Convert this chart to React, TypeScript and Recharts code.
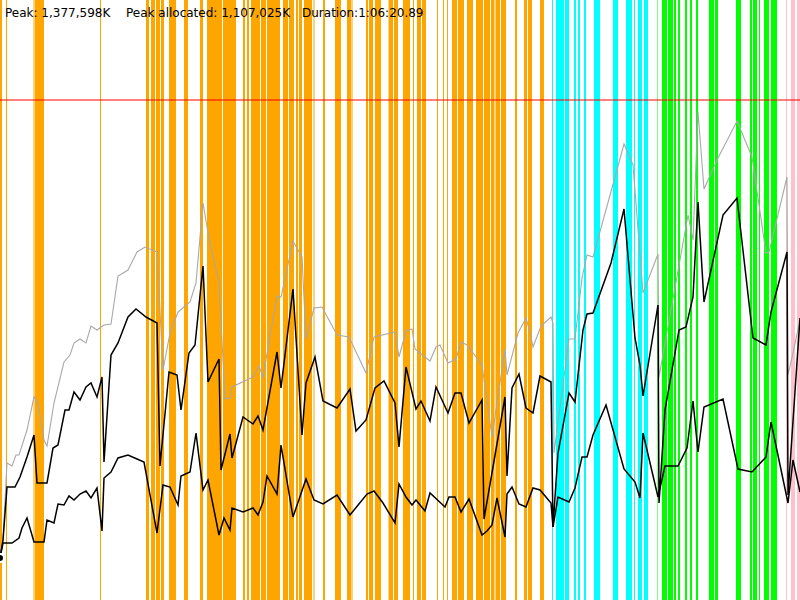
import React from 'react'
import { LineChart, Line, XAxis, YAxis, ReferenceArea, ReferenceLine } from 'recharts'

// time axis runs 0..800 (scaled sample index), memory axis 0..600
const grayTime = [0, 3, 7, 12, 16, 19, 27, 34, 38, 44, 47, 54, 64, 70, 74, 80, 86, 91, 97, 104, 111, 118, 128, 137, 145, 157, 163, 170, 178, 190, 196, 203, 208, 219, 225, 230, 232, 253, 259, 263, 277, 281, 293, 302, 306, 314, 322, 337, 349, 366, 374, 395, 399, 406, 412, 415, 430, 436, 440, 448, 456, 461, 467, 482, 492, 505, 507, 518, 526, 530, 533, 541, 551, 553, 554, 569, 575, 582, 587, 593, 604, 615, 624, 633, 643, 658, 659, 688, 693, 698, 704, 717, 737, 752, 766, 769, 787, 788, 793, 800]
const grayValue = [42, 60, 137, 134, 145, 145, 170, 203, 197, 160, 154, 197, 238, 245, 257, 261, 257, 274, 270, 275, 276, 324, 330, 348, 353, 348, 230, 267, 288, 298, 317, 397, 367, 317, 201, 202, 213, 223, 234, 223, 304, 303, 359, 343, 261, 292, 293, 265, 263, 227, 263, 268, 243, 269, 271, 251, 239, 253, 255, 237, 241, 258, 255, 235, 163, 251, 225, 267, 282, 268, 253, 274, 283, 277, 147, 261, 261, 322, 345, 343, 383, 423, 456, 435, 307, 346, 223, 385, 360, 488, 411, 440, 479, 443, 347, 348, 423, 225, 247, 280]

const usedTime = [0, 3, 7, 15, 20, 27, 34, 37, 47, 53, 58, 65, 69, 74, 80, 86, 91, 97, 102, 104, 111, 118, 128, 136, 146, 157, 160, 169, 177, 181, 189, 195, 203, 208, 219, 221, 230, 232, 243, 253, 258, 263, 277, 281, 293, 302, 306, 315, 323, 337, 350, 356, 366, 375, 384, 395, 399, 406, 416, 421, 430, 436, 448, 455, 461, 469, 482, 484, 493, 505, 507, 512, 519, 526, 533, 540, 551, 553, 558, 569, 575, 583, 587, 593, 611, 624, 635, 640, 643, 658, 659, 665, 679, 686, 693, 698, 704, 723, 737, 753, 766, 771, 787, 788, 800]
const usedValue = [42, 60, 113, 113, 123, 143, 165, 117, 117, 152, 155, 190, 190, 208, 200, 213, 217, 203, 223, 138, 245, 257, 283, 291, 283, 277, 134, 228, 225, 190, 247, 255, 334, 218, 241, 130, 166, 142, 183, 176, 184, 170, 248, 212, 311, 165, 217, 243, 199, 192, 211, 169, 180, 212, 219, 197, 153, 233, 191, 199, 179, 213, 187, 207, 207, 177, 200, 81, 133, 203, 124, 212, 226, 192, 187, 224, 218, 73, 147, 207, 198, 270, 286, 287, 337, 391, 262, 235, 204, 295, 97, 190, 270, 273, 303, 398, 298, 385, 402, 262, 255, 288, 348, 105, 282]

const lowTime = [0, 3, 12, 19, 22, 27, 34, 44, 47, 54, 58, 64, 69, 74, 80, 86, 91, 97, 102, 104, 111, 118, 128, 137, 144, 157, 163, 170, 178, 181, 190, 196, 203, 208, 219, 224, 230, 232, 243, 253, 258, 263, 267, 277, 281, 293, 306, 314, 323, 337, 350, 367, 374, 383, 395, 399, 406, 412, 416, 425, 430, 445, 449, 455, 461, 469, 482, 487, 492, 497, 505, 507, 512, 519, 526, 533, 540, 551, 553, 558, 569, 575, 582, 587, 593, 606, 624, 635, 640, 643, 658, 665, 678, 687, 693, 698, 704, 723, 738, 752, 766, 771, 788, 793, 800]
const lowValue = [42, 57, 57, 62, 72, 82, 58, 58, 80, 77, 96, 95, 104, 100, 106, 109, 102, 112, 69, 122, 128, 142, 145, 141, 138, 67, 115, 113, 95, 124, 128, 167, 110, 120, 65, 82, 70, 92, 88, 92, 85, 98, 124, 106, 155, 83, 121, 100, 96, 105, 85, 106, 109, 97, 77, 116, 103, 95, 100, 89, 107, 93, 103, 103, 88, 101, 65, 69, 75, 102, 63, 106, 113, 96, 93, 112, 110, 97, 73, 103, 98, 112, 143, 143, 165, 195, 131, 118, 102, 167, 103, 134, 134, 152, 199, 148, 193, 201, 131, 128, 143, 178, 97, 140, 108]

// activity phases as [start, end] on the time axis
const orangeBands = [[0, 2], [6, 7], [35, 44], [100, 101], [146, 149], [151, 155], [156, 160], [161, 164], [169, 176], [184, 188], [200, 203], [207, 222], [223, 236], [243, 245], [247, 249], [251, 260], [261, 266], [267, 280], [283, 288], [289, 294], [296, 298], [299, 302], [304, 312], [323, 325], [335, 341], [347, 351], [366, 368], [369, 373], [375, 381], [389, 393], [394, 398], [403, 410], [413, 414], [417, 421], [422, 426], [437, 438], [443, 444], [447, 448], [452, 457], [458, 464], [467, 473], [476, 483], [484, 490], [491, 494], [496, 500], [501, 506], [515, 517], [524, 527], [528, 532], [540, 544]]
const orangeLightBands = [[33, 35], [313, 315], [351, 353], [388, 389], [494, 496]]
const cyanBands = [[552, 553], [556, 564], [565, 569], [574, 576], [578, 580], [584, 586], [594, 600], [613, 618], [626, 632], [634, 635], [638, 642], [644, 648]]
const greenBands = [[662, 667], [668, 673], [674, 676], [678, 680], [685, 687], [690, 692], [696, 698], [709, 714], [715, 718], [736, 741], [750, 752], [753, 757], [759, 760], [764, 769], [771, 777]]
const greenLightBands = [[657, 658]]
const pinkBands = [[786, 787], [791, 795], [797, 800]]

const peakLimit = 500

const zip = (t: number[], v: number[]) => t.map((x, i) => ({ t: x, v: v[i] }))

const grayData = zip(grayTime, grayValue)
const usedData = zip(usedTime, usedValue)
const lowData = zip(lowTime, lowValue)

function bands(list: number[][], color: string, opacity: number, prefix: string) {
  return list.map(([a, b], i) => (
    <ReferenceArea
      key={prefix + i}
      x1={a}
      x2={b}
      y1={0}
      y2={600}
      fill={color}
      fillOpacity={opacity}
      stroke="none"
      strokeOpacity={0}
    />
  ))
}

export default function App() {
  return (
    <div style={{ position: 'fixed', left: 0, top: 0, width: 800, height: 600, background: '#fff' }}>
      <LineChart width={800} height={600} margin={{ top: 0, right: 0, bottom: 0, left: 0 }}>
        <XAxis type="number" dataKey="t" domain={[0, 800]} hide allowDataOverflow />
        <YAxis type="number" domain={[0, 600]} hide allowDataOverflow />
        {bands(orangeBands, '#ffa500', 1, 'o')}
        {bands(orangeLightBands, '#ffa500', 0.5, 'ol')}
        {bands(cyanBands, '#00ffff', 1, 'c')}
        {bands(greenBands, '#00ff00', 1, 'g')}
        {bands(greenLightBands, '#00ff00', 0.5, 'gl')}
        {bands(pinkBands, '#ffc0cb', 1, 'p')}
        <ReferenceLine y={peakLimit} stroke="#ff0000" strokeOpacity={0.5} strokeWidth={2} />
        <Line data={grayData} dataKey="v" type="linear" stroke="#a8a8a8" strokeWidth={1.1} dot={false} isAnimationActive={false} />
        <Line data={usedData} dataKey="v" type="linear" stroke="#000" strokeWidth={1.5} dot={false} isAnimationActive={false} />
        <Line data={lowData} dataKey="v" type="linear" stroke="#000" strokeWidth={1.5} dot={false} isAnimationActive={false} />
      </LineChart>
      <svg width={800} height={30} style={{ position: 'absolute', left: 0, top: 0, pointerEvents: 'none' }}>
        <g fontFamily="DejaVu Sans" fontSize={12} fill="#000">
          <text x={5} y={17}>Peak: 1,377,598K</text>
          <text x={126} y={17}>Peak allocated: 1,107,025K</text>
          <text x={302} y={17}>Duration:1:06:20.89</text>
        </g>
      </svg>
    </div>
  )
}
